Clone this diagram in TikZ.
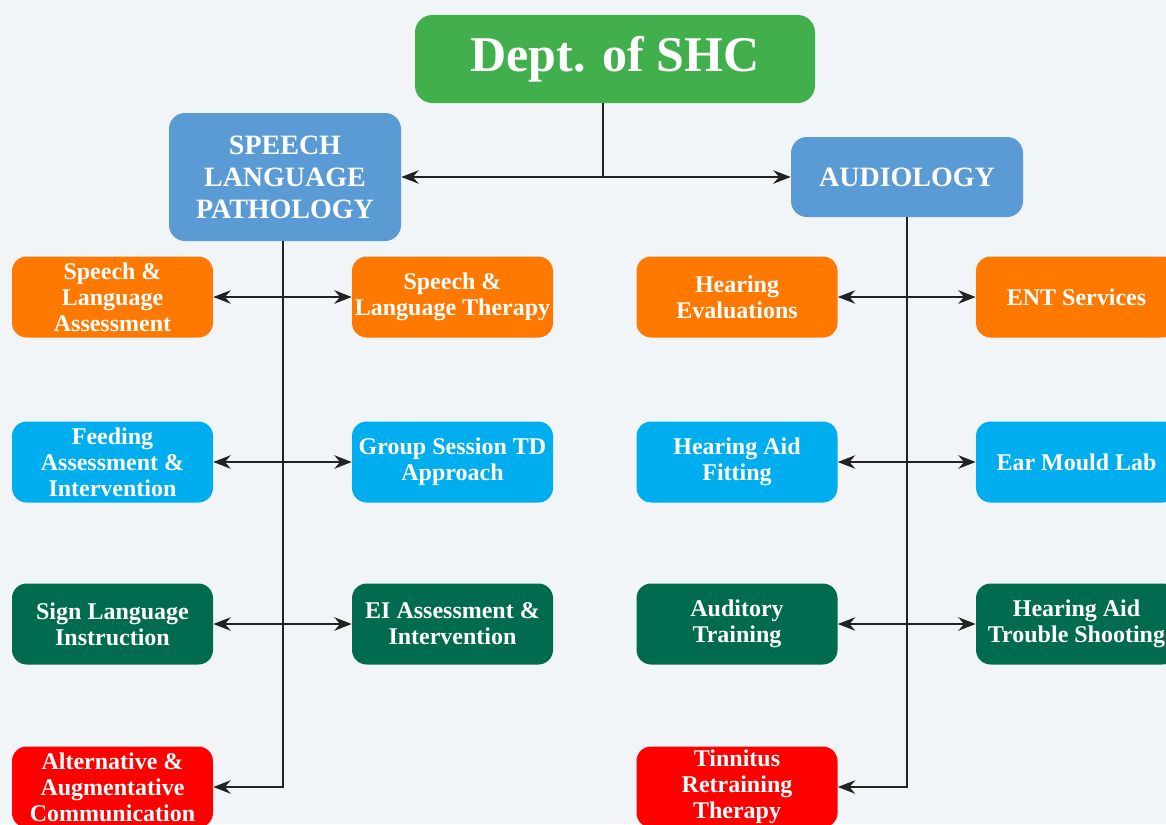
\documentclass[tikz,border=0pt]{standalone}
\usepackage{fontspec}
\setmainfont{Liberation Serif}
\usetikzlibrary{arrows.meta}
\definecolor{bgc}{HTML}{F2F5F7}
\definecolor{topgreen}{HTML}{41AF4C}
\definecolor{headblue}{HTML}{5B9BD5}
\definecolor{orangec}{HTML}{FF7800}
\definecolor{skyc}{HTML}{00AEEF}
\definecolor{darkgreen}{HTML}{006B4E}
\definecolor{redc}{HTML}{FF0000}
\definecolor{linec}{HTML}{222222}
\tikzset{
  box/.style={rounded corners=11pt, text=white, align=center, inner sep=1pt,
    font=\bfseries\fontsize{18}{19.5}\selectfont,
    minimum width=150.75pt, minimum height=60.75pt},
  orangebox/.style={box, fill=orangec},
  skybox/.style={box, fill=skyc},
  greenbox/.style={box, fill=darkgreen},
  redbox/.style={box, fill=redc},
  headbox/.style={rounded corners=12pt, text=white, align=center, fill=headblue,
    font=\bfseries\fontsize{21}{24}\selectfont, minimum width=174pt},
  conn/.style={draw=linec, line width=1.9pt, -{Stealth[length=13pt,width=10pt]}},
  biconn/.style={draw=linec, line width=1.9pt, {Stealth[length=13pt,width=10pt]}-{Stealth[length=13pt,width=10pt]}},
  plain/.style={draw=linec, line width=1.9pt}
}
\begin{document}
\begin{tikzpicture}[x=0.75pt,y=-0.75pt]
\useasboundingbox (0,0) rectangle (1166,824);
\clip (0,0) rectangle (1166,824);
\fill[bgc] (0,0) rectangle (1166,824);

\node[rounded corners=13pt, fill=topgreen, text=white, font=\bfseries\fontsize{37.5}{40}\selectfont,
  minimum width=300pt, minimum height=66pt] (top) at (615,59) {Dept. of SHC};
\node[headbox, minimum height=96pt] (slp) at (285,177) {SPEECH\\LANGUAGE\\PATHOLOGY};
\node[headbox, minimum height=60pt] (aud) at (907,177) {AUDIOLOGY};

% row 1
\node[orangebox] (a1) at (112.5,297) {Speech \&\\Language\\Assessment};
\node[orangebox] (b1) at (452.5,297) {Speech \&\\Language Therapy};
\node[orangebox] (c1) at (737,297) {Hearing\\Evaluations};
\node[orangebox] (d1) at (1076.5,297) {ENT Services};
% row 2
\node[skybox] (a2) at (112.5,462) {Feeding\\Assessment \&\\Intervention};
\node[skybox] (b2) at (452.5,462) {Group Session TD\\Approach};
\node[skybox] (c2) at (737,462) {Hearing Aid\\Fitting};
\node[skybox] (d2) at (1076.5,462) {Ear Mould Lab};
% row 3
\node[greenbox] (a3) at (112.5,624) {Sign Language\\Instruction};
\node[greenbox] (b3) at (452.5,624) {EI Assessment \&\\Intervention};
\node[greenbox] (c3) at (737,624) {Auditory\\Training};
\node[greenbox] (d3) at (1076.5,624) {Hearing Aid\\Trouble Shooting};
% row 4
\node[redbox] (a4) at (112.5,787) {Alternative \&\\Augmentative\\Communication};
\node[redbox] (c4) at (737,787) {Tinnitus\\Retraining\\Therapy};

% connectors
\coordinate (j) at (603,177);
\coordinate (sx) at (283,0);
\coordinate (ax) at (907,0);
\draw[plain] (top.south -| j) -- (j);
\draw[biconn] (slp.east) -- (aud.west);
\draw[conn] (slp.south -| sx) |- (a4.east);
\draw[conn] (aud.south -| ax) |- (c4.east);
\draw[biconn] (a1.east) -- (b1.west);
\draw[biconn] (a2.east) -- (b2.west);
\draw[biconn] (a3.east) -- (b3.west);
\draw[biconn] (c1.east) -- (d1.west);
\draw[biconn] (c2.east) -- (d2.west);
\draw[biconn] (c3.east) -- (d3.west);
\end{tikzpicture}
\end{document}
